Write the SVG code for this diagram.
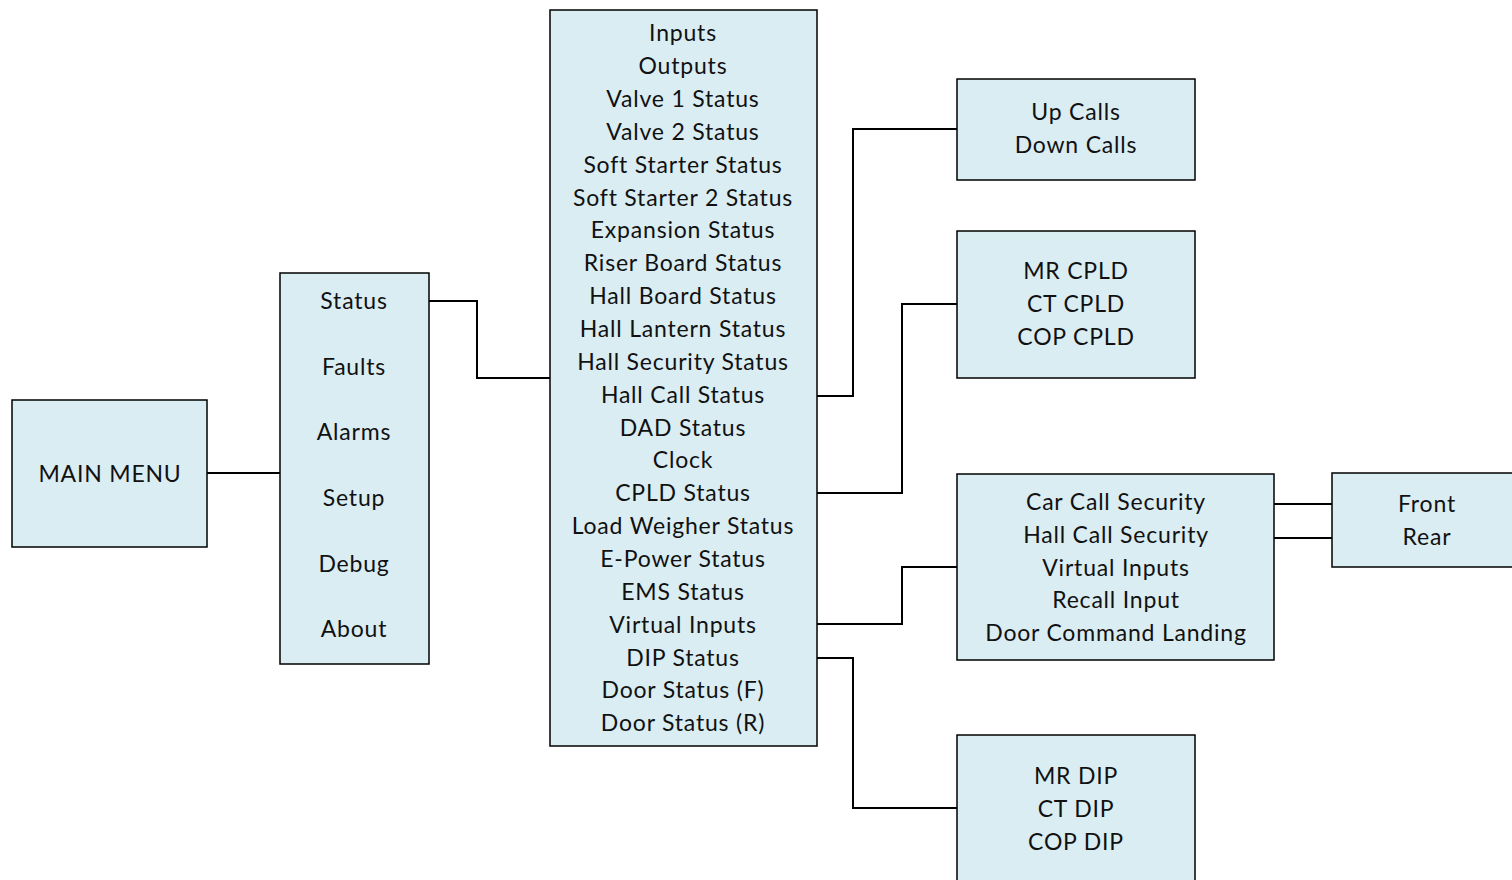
<svg xmlns="http://www.w3.org/2000/svg" width="1512" height="880" viewBox="0 0 1512 880">
  <style>
    .box { fill: #DAEDF3; stroke: #000; stroke-width: 1.5; }
    .lbl { font-family: Lato, "Open Sans", sans-serif; font-size: 23px; letter-spacing: 0.8px; fill: #111; text-anchor: middle; }
    .wire { fill: none; stroke: #000; stroke-width: 2; }
  </style>
  <rect width="1512" height="880" fill="#fff"/>

  <g id="connectors">
    <path class="wire" d="M207,473 H280"/>
    <path class="wire" d="M429,301 H477 V378 H550"/>
    <path class="wire" d="M817,396 H853 V129 H957"/>
    <path class="wire" d="M817,493 H902 V304 H957"/>
    <path class="wire" d="M817,624 H902 V567 H957"/>
    <path class="wire" d="M817,658 H853 V808 H957"/>
    <path class="wire" d="M1274,504 H1332"/>
    <path class="wire" d="M1274,538 H1332"/>
  </g>

  <g id="main-menu">
    <rect class="box" x="12" y="400" width="195" height="147"/>
    <text class="lbl" x="110" y="482">MAIN MENU</text>
  </g>

  <g id="menu">
    <rect class="box" x="280" y="273" width="149" height="391"/>
    <text class="lbl" x="354" y="309">Status</text>
    <text class="lbl" x="354" y="375">Faults</text>
    <text class="lbl" x="354" y="440">Alarms</text>
    <text class="lbl" x="354" y="506">Setup</text>
    <text class="lbl" x="354" y="572">Debug</text>
    <text class="lbl" x="354" y="637">About</text>
  </g>

  <g id="status-list">
    <rect class="box" x="550" y="10" width="267" height="736"/>
    <text class="lbl" x="683" y="41">Inputs</text>
    <text class="lbl" x="683" y="74">Outputs</text>
    <text class="lbl" x="683" y="107">Valve 1 Status</text>
    <text class="lbl" x="683" y="140">Valve 2 Status</text>
    <text class="lbl" x="683" y="173">Soft Starter Status</text>
    <text class="lbl" x="683" y="206">Soft Starter 2 Status</text>
    <text class="lbl" x="683" y="238">Expansion Status</text>
    <text class="lbl" x="683" y="271">Riser Board Status</text>
    <text class="lbl" x="683" y="304">Hall Board Status</text>
    <text class="lbl" x="683" y="337">Hall Lantern Status</text>
    <text class="lbl" x="683" y="370">Hall Security Status</text>
    <text class="lbl" x="683" y="403">Hall Call Status</text>
    <text class="lbl" x="683" y="436">DAD Status</text>
    <text class="lbl" x="683" y="468">Clock</text>
    <text class="lbl" x="683" y="501">CPLD Status</text>
    <text class="lbl" x="683" y="534">Load Weigher Status</text>
    <text class="lbl" x="683" y="567">E-Power Status</text>
    <text class="lbl" x="683" y="600">EMS Status</text>
    <text class="lbl" x="683" y="633">Virtual Inputs</text>
    <text class="lbl" x="683" y="666">DIP Status</text>
    <text class="lbl" x="683" y="698">Door Status (F)</text>
    <text class="lbl" x="683" y="731">Door Status (R)</text>
  </g>

  <g id="calls">
    <rect class="box" x="957" y="79" width="238" height="101"/>
    <text class="lbl" x="1076" y="120">Up Calls</text>
    <text class="lbl" x="1076" y="153">Down Calls</text>
  </g>

  <g id="cpld">
    <rect class="box" x="957" y="231" width="238" height="147"/>
    <text class="lbl" x="1076" y="279">MR CPLD</text>
    <text class="lbl" x="1076" y="312">CT CPLD</text>
    <text class="lbl" x="1076" y="345">COP CPLD</text>
  </g>

  <g id="virtual-inputs">
    <rect class="box" x="957" y="474" width="317" height="186"/>
    <text class="lbl" x="1116" y="510">Car Call Security</text>
    <text class="lbl" x="1116" y="543">Hall Call Security</text>
    <text class="lbl" x="1116" y="576">Virtual Inputs</text>
    <text class="lbl" x="1116" y="608">Recall Input</text>
    <text class="lbl" x="1116" y="641">Door Command Landing</text>
  </g>

  <g id="side">
    <rect class="box" x="1332" y="473" width="190" height="94"/>
    <text class="lbl" x="1427" y="512">Front</text>
    <text class="lbl" x="1427" y="545">Rear</text>
  </g>

  <g id="dip">
    <rect class="box" x="957" y="735" width="238" height="150"/>
    <text class="lbl" x="1076" y="784">MR DIP</text>
    <text class="lbl" x="1076" y="817">CT DIP</text>
    <text class="lbl" x="1076" y="850">COP DIP</text>
  </g>
</svg>
